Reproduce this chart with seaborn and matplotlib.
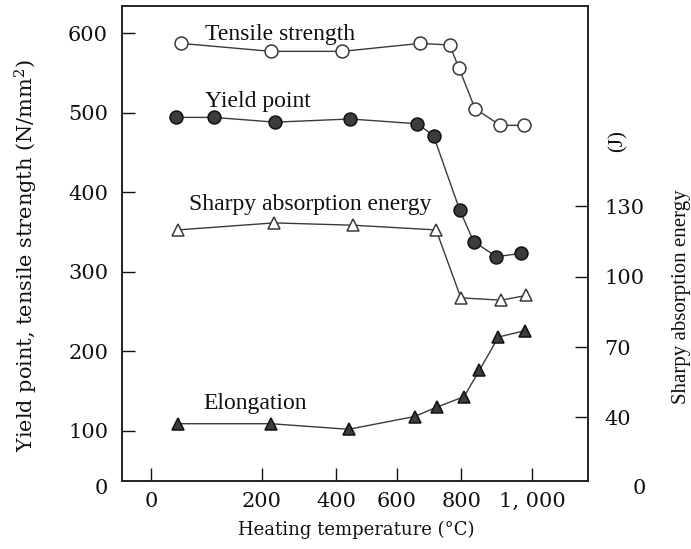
import numpy as np
import pandas as pd
import matplotlib
matplotlib.use("Agg")
import matplotlib.pyplot as plt
import seaborn as sns

# values (temperature in deg C)
tensile_temp = [54, 225, 420, 672, 764, 793, 839, 910, 977]
tensile = [587, 577, 577, 587, 585, 556, 505, 484, 484]

yield_temp = [45, 113, 236, 445, 664, 714, 795, 835, 899, 968]
yield_pt = [494, 494, 488, 492, 486, 471, 378, 338, 319, 323]

sharpy_temp = [48, 233, 456, 722, 799, 913, 982]
sharpy = [120, 123, 122, 120, 91, 90, 92]          # J, right axis

elong_temp = [48, 224, 440, 655, 725, 808, 851, 905, 980]
elong = [109, 109, 102, 118, 130, 143, 176, 218, 226]

x_ticks = [0, 200, 400, 600, 800, 1000]
x_ticklabels = ['0', '200', '400', '600', '800', '1, 000']
left_ticks = [100, 200, 300, 400, 500, 600]
right_ticks = [40, 70, 100, 130]

sns.set_theme(style="ticks")
plt.rcParams['font.family'] = ['DejaVu Serif']
plt.rcParams['mathtext.fontset'] = 'dejavuserif'

# the printed temperature axis is not evenly spaced; follow its tick spacing
t_nodes = np.array([-200, 0, 200, 400, 600, 800, 1000, 1400])
p_nodes = np.array([151 - 110.7, 151, 261.7, 336.3, 396.7, 461, 532, 532 + 142])


def fwd(t):
    return np.interp(t, t_nodes, p_nodes)


def inv(p):
    return np.interp(p, p_nodes, t_nodes)


fig = plt.figure(figsize=(6.91, 5.49), dpi=100)
ax = fig.add_axes([122 / 691, 68 / 549, 466 / 691, 475 / 549])
ax2 = ax.twinx()

line_col = '#3a3a3a'
fill_col = '#3c3c3c'
text_col = '#111111'

sns.lineplot(x=tensile_temp, y=tensile, ax=ax, color=line_col, lw=1.0,
             marker='o', markersize=9.3, markerfacecolor='white',
             markeredgecolor=line_col, markeredgewidth=1.1)
sns.lineplot(x=yield_temp, y=yield_pt, ax=ax, color=line_col, lw=1.0,
             marker='o', markersize=9.3, markerfacecolor=fill_col,
             markeredgecolor='#111111', markeredgewidth=1.1)
sns.lineplot(x=elong_temp, y=elong, ax=ax, color=line_col, lw=1.0,
             marker='^', markersize=9.3, markerfacecolor=fill_col,
             markeredgecolor='#111111', markeredgewidth=1.1)
sns.lineplot(x=sharpy_temp, y=sharpy, ax=ax2, color=line_col, lw=1.0,
             marker='^', markersize=9.3, markerfacecolor='white',
             markeredgecolor=line_col, markeredgewidth=1.1)

for a in (ax, ax2):
    a.set_xscale('function', functions=(fwd, inv))
    a.set_xlim(-52.4, 1157)
ax.set_ylim(37, 634)
ax2.set_ylim(12.8, 215.6)

ax.set_xticks(x_ticks)
ax.set_xticklabels(x_ticklabels)
ax.set_yticks(left_ticks)
ax2.set_yticks(right_ticks)
ax.minorticks_off()
ax2.minorticks_off()

ax.tick_params(axis='both', direction='in', length=9.4, width=1.0,
               labelsize=15, colors=text_col)
ax.tick_params(axis='x', pad=8)
ax.tick_params(axis='y', pad=10)
ax2.tick_params(axis='y', direction='in', length=9.4, width=1.0,
                labelsize=15, colors=text_col, pad=12)

for a in (ax, ax2):
    for s in a.spines.values():
        s.set_visible(True)
        s.set_linewidth(1.2)
        s.set_color('#222222')

# broken-axis style zeros at the bottom of both scales
ax.text(-0.03, -0.015, '0', transform=ax.transAxes, ha='right', va='center',
        fontsize=15, color=text_col)
ax.text(1.11, -0.015, '0', transform=ax.transAxes, ha='center', va='center',
        fontsize=15, color=text_col)

ax.set_xlabel('Heating temperature (°C)', fontsize=13, color=text_col)
ax.xaxis.set_label_coords(0.502, -0.084)
ax.set_ylabel('Yield point, tensile strength (N/mm$^2$)', fontsize=15,
              color=text_col)
ax.yaxis.set_label_coords(-0.176, 0.474)
ax2.set_ylabel('Sharpy absorption energy', fontsize=15, color=text_col,
               family='Liberation Serif')
ax2.yaxis.set_label_coords(1.18, 0.389)
ax2.text(1.064, 0.716, '(J)', transform=ax2.transAxes, rotation=90,
         ha='center', va='center', fontsize=15, family='Liberation Serif',
         color=text_col)

# series names written next to the curves
label_kw = dict(ha='left', va='center', fontsize=17, family='Liberation Serif',
                color=text_col)
ax.text(97, 598, 'Tensile strength', **label_kw)
ax.text(97, 514, 'Yield point', **label_kw)
ax.text(69, 384, 'Sharpy absorption energy', **label_kw)
ax.text(94, 134, 'Elongation', **label_kw)

fig.savefig('out.png', dpi=100, facecolor='white')
